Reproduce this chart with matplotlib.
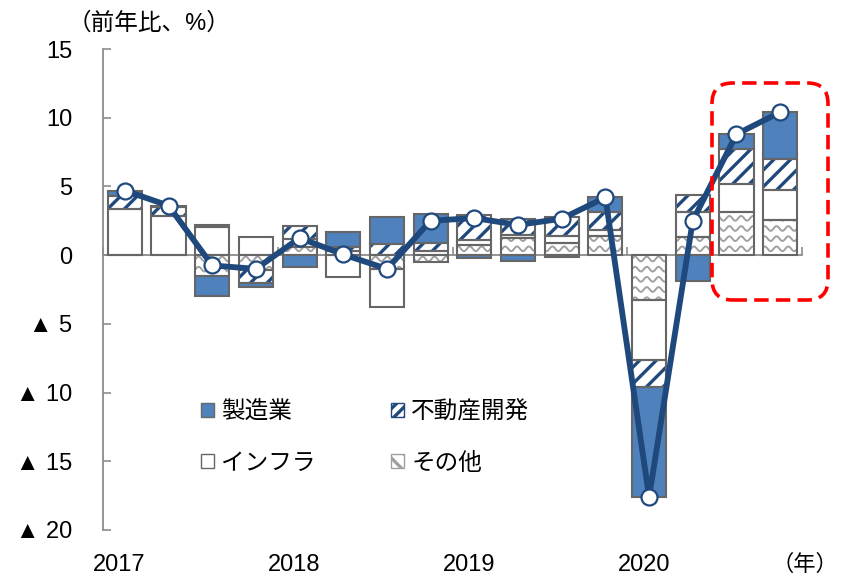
import numpy as np
import matplotlib.pyplot as plt
from matplotlib.patches import Patch, FancyBboxPatch
from matplotlib.collections import LineCollection
from matplotlib.ticker import FuncFormatter
from matplotlib.transforms import blended_transform_factory

plt.rcParams['font.family'] = ['Liberation Sans', 'Noto Sans CJK JP', 'DejaVu Sans']
plt.rcParams['hatch.linewidth'] = 2.4

# quarterly contributions (pp), 2017Q1 - 2020Q4
years = ['2017', '2018', '2019', '2020']
manufacturing = [0.36, 0.10, -1.40, -0.32, -0.85, 1.05, 1.95, 2.10,
                 -0.20, -0.45, -0.15, 1.09, -8.00, -1.90, 1.05, 3.40]
real_estate = [0.97, 0.63, 0.15, -0.97, 0.92, 0.32, 0.83, 0.60,
               1.77, 1.15, 1.40, 1.26, -2.00, 1.28, 2.55, 2.24]
infrastructure = [3.36, 2.87, 2.05, 1.34, 0.58, -1.60, -2.80, 0.30,
                  0.37, 0.25, 0.50, 0.48, -4.35, 1.80, 2.06, 2.18]
others = [0.00, 0.00, -1.55, -1.05, 0.60, 0.28, -0.98, -0.50,
          0.76, 1.25, 0.90, 1.37, -3.25, 1.32, 3.14, 2.58]
total = [4.7, 3.6, -0.75, -1.0, 1.25, 0.05, -1.0, 2.5,
         2.7, 2.2, 2.65, 4.2, -17.6, 2.5, 8.8, 10.4]

BLUE = '#4F81BD'
NAVY = '#1F497D'
EDGE = '#666666'
WAVE = '#A0A0A0'

fig = plt.figure(figsize=(8.55, 5.76), dpi=100)
ax = fig.add_axes([103 / 855, 46 / 576, 699 / 855, 481 / 576])

x = np.arange(len(total))
width = 0.78

# stack outward from zero: others, infrastructure, real estate, manufacturing
pos = np.zeros(len(x))
neg = np.zeros(len(x))
stacks = {}
for key, vals in [('other', others), ('infra', infrastructure),
                  ('re', real_estate), ('mfg', manufacturing)]:
    v = np.array(vals)
    bottom = np.where(v >= 0, pos, neg)
    stacks[key] = (v, bottom)
    pos = pos + np.clip(v, 0, None)
    neg = neg + np.clip(v, None, 0)

v, b = stacks['other']
other_bars = ax.bar(x, v, width, bottom=b, color='white', lw=0, zorder=2)
v, b = stacks['infra']
ax.bar(x, v, width, bottom=b, color='white', lw=0, zorder=2)
v, b = stacks['re']
ax.bar(x, v, width, bottom=b, color='white', edgecolor=NAVY, hatch='//',
       lw=0, zorder=2)
v, b = stacks['mfg']
ax.bar(x, v, width, bottom=b, color=BLUE, lw=0, zorder=2)

# wavy fill for the "other" segments
wx = np.linspace(-1, 17, 3000)
rows = []
for y0 in np.arange(-21, 16, 0.74):
    rows.append(np.column_stack([wx, y0 + 0.17 * np.sin(2 * np.pi * wx / 0.27)]))
for bar in other_bars:
    if bar.get_height() == 0:
        continue
    lc = LineCollection(rows, colors=WAVE, linewidths=1.4, zorder=2.5)
    ax.add_collection(lc)
    lc.set_clip_path(bar)

# outlines on top of the fills
for key in ['other', 'infra', 're', 'mfg']:
    v, b = stacks[key]
    ax.bar(x, v, width, bottom=b, fill=False, edgecolor=EDGE, lw=1.5, zorder=3)

ax.plot(x, total, color=NAVY, lw=4.2, marker='o', ms=11.5, mfc='white',
        mec=NAVY, mew=1.6, solid_joinstyle='round', zorder=6)

ax.set_xlim(-0.5, 15.5)
ax.set_ylim(-20, 15)
ax.set_yticks(np.arange(-20, 16, 5))
ax.yaxis.set_major_formatter(FuncFormatter(
    lambda val, pos: f'▲ {abs(int(val))}' if val < 0 else f'{int(val)}'))
ax.tick_params(axis='y', direction='in', length=6, width=1.2, color='#8C8C8C',
               labelsize=17, pad=22)

ax.spines['top'].set_visible(False)
ax.spines['right'].set_visible(False)
ax.spines['left'].set_color('#8C8C8C')
ax.spines['left'].set_linewidth(1.3)
ax.spines['bottom'].set_position(('data', 0))
ax.spines['bottom'].set_color('#8C8C8C')
ax.spines['bottom'].set_linewidth(1.3)
ax.spines['bottom'].set_zorder(1)
ax.set_xticks(np.arange(-0.5, 16, 4))
ax.tick_params(axis='x', direction='in', length=6, width=1.2, color='#8C8C8C',
               labelbottom=False)

trans = blended_transform_factory(ax.transData, ax.transAxes)
for k, yr in enumerate(years):
    ax.text(4 * k - 0.12, -0.073, yr, transform=trans, ha='center', va='center',
            fontsize=17)

fig.text(805 / 855, 1 - 565 / 576, '（年）', ha='center', va='center', fontsize=16)
fig.text(149 / 855, 1 - 23 / 576, '（前年比、%）', ha='center', va='center',
         fontsize=17)

handles = [
    Patch(facecolor=BLUE, edgecolor=EDGE, label='製造業'),
    Patch(facecolor='white', edgecolor=EDGE, label='インフラ'),
    Patch(facecolor='white', edgecolor=NAVY, hatch='///', label='不動産開発'),
    Patch(facecolor='white', edgecolor=WAVE, hatch='\\\\', label='その他'),
]
ax.legend(handles=handles, ncol=2, loc='upper left', bbox_to_anchor=(0.11, 0.313),
          frameon=False, fontsize=17, handlelength=0.55, handleheight=0.55,
          handletextpad=0.3, columnspacing=3.2, labelspacing=1.25)

box = FancyBboxPatch((712 / 855, 1 - 300 / 576), 116 / 855, 217 / 576,
                     boxstyle='round,pad=0,rounding_size=0.024',
                     mutation_aspect=855 / 576, transform=fig.transFigure,
                     fill=False, edgecolor='#FF0000', lw=2.6,
                     linestyle=(0, (4, 2)), zorder=10)
fig.add_artist(box)

fig.savefig('out.png', dpi=100)
